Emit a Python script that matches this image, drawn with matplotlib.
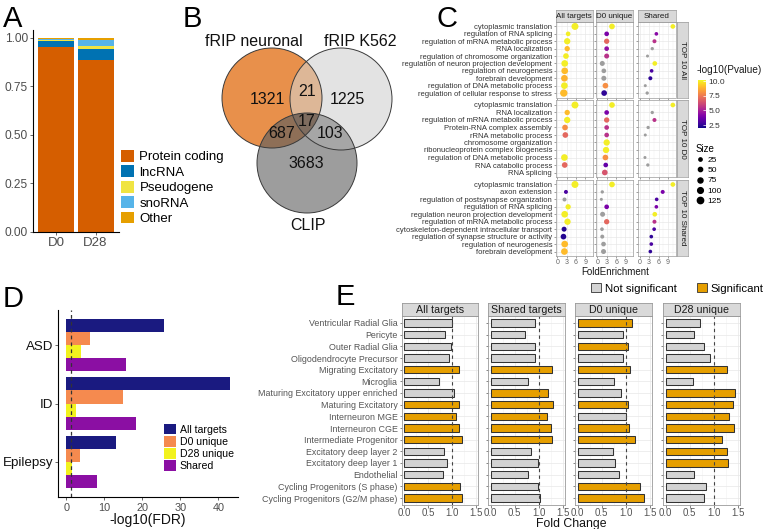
import numpy as np
import matplotlib
matplotlib.use("Agg")
import matplotlib.pyplot as plt
from matplotlib.patches import Polygon, Patch, Circle
from matplotlib.lines import Line2D
import matplotlib.colors as mcolors
import matplotlib.cm as cm

plt.rcParams['font.family'] = ['Liberation Sans', 'DejaVu Sans']

# ---------------- DATA ----------------
# Panel A
a_samples = ["D0", "D28"]
a_types = ["Protein coding", "lncRNA", "Pseudogene", "snoRNA", "Other"]
a_protein = [0.950, 0.883]
a_lncrna = [0.033, 0.060]
a_pseudo = [0.005, 0.014]
a_snorna = [0.007, 0.033]
a_other = [0.005, 0.010]

# Panel B (Venn)
venn_sets = ["fRIP neuronal", "fRIP K562", "CLIP"]
venn_regions = ["100", "010", "001", "110", "101", "011", "111"]
venn_counts = [1321, 1225, 3683, 21, 687, 103, 17]

# Panel C
c_cols = ["All targets", "D0 unique", "Shared"]
c_rows = ["TOP 10 All", "TOP 10 D0", "TOP 10 Shared"]
c_terms_top_all = ["cytoplasmic translation", "regulation of RNA splicing",
                   "regulation of mRNA metabolic process", "RNA localization",
                   "regulation of chromosome organization",
                   "regulation of neuron projection development",
                   "regulation of neurogenesis", "forebrain development",
                   "regulation of DNA metabolic process",
                   "regulation of cellular response to stress"]
c_terms_top_d0 = ["cytoplasmic translation", "RNA localization",
                  "regulation of mRNA metabolic process", "Protein-RNA complex assembly",
                  "rRNA metabolic process", "chromosome organization",
                  "ribonucleoprotein complex biogenesis",
                  "regulation of DNA metabolic process", "RNA catabolic process",
                  "RNA splicing"]
c_terms_top_shared = ["cytoplasmic translation", "axon extension",
                      "regulation of postsynapse organization", "regulation of RNA splicing",
                      "regulation neuron projection development",
                      "regulation of mRNA metabolic process",
                      "cytoskeleton-dependent intracellular transport",
                      "regulation of synapse structure or activity",
                      "regulation of neurogenesis", "forebrain development"]
nan = float("nan")
# fold enrichment per column (All targets, D0 unique, Shared)
c_fe_top_all = [[5.7, 3.5, 3.2, 3.2, 2.8, 2.4, 2.4, 2.3, 2.3, 2.1],
                [4.7, 3.0, 3.0, 3.0, 3.0, 1.6, 2.1, 2.1, 2.6, 2.2],
                [10.5, 5.3, 4.7, 4.0, 2.5, 4.8, 3.8, 3.4, 1.8, 2.4]]
c_fe_top_d0 = [[5.7, 3.2, 3.2, 2.5, 2.6, nan, nan, 2.3, 2.4, nan],
               [4.7, 3.0, 3.0, 3.0, 3.0, 3.0, 2.8, 2.6, 2.7, 2.4],
               [10.5, 4.0, 4.7, 2.7, 1.8, nan, nan, 1.7, 2.6, nan]]
c_fe_top_shared = [[5.7, 2.8, 2.3, 3.5, 2.4, 3.3, 2.2, 2.0, 2.4, 2.3],
                   [4.7, 1.6, 1.3, 3.0, 1.7, 3.0, 1.5, 1.6, 2.0, 2.0],
                   [10.5, 7.3, 5.4, 5.3, 4.8, 4.7, 4.6, 3.7, 3.7, 3.4]]
# -log10(Pvalue); nan = not significant (grey)
c_lp_top_all = [[10, 10, 10, 9.0, 10, 10, 9.0, 8.8, 10, 9.0],
                [10, 4.0, 7.0, 4.5, 5.5, nan, nan, nan, 8.0, 2.5],
                [10, 4.3, 5.5, nan, nan, 10, 3.0, 2.5, nan, nan]]
c_lp_top_d0 = [[10, 9.0, 10, 8.0, 7.0, nan, nan, 10, 7.0, nan],
               [10, 4.0, 7.0, 5.5, 5.5, 10, 10, 8.0, 3.5, 6.5],
               [10, nan, 5.5, nan, nan, nan, nan, nan, nan, nan]]
c_lp_top_shared = [[10, 3.0, nan, 10, 10, 10, 2.3, 2.3, 9.0, 9.0],
                   [10, nan, nan, 4.0, nan, 7.0, nan, nan, nan, nan],
                   [10, 4.0, 3.0, 4.0, 10, 5.5, 3.0, 2.5, 3.0, 2.5]]
# gene counts (Size)
c_n_top_all = [[156, 62, 125, 85, 98, 140, 140, 140, 140, 173],
               [98, 62, 85, 62, 73, 73, 62, 73, 98, 98],
               [62, 33, 42, 25, 18, 62, 33, 42, 18, 25]]
c_n_top_d0 = [[156, 85, 125, 98, 98, 0, 0, 140, 98, 0],
              [98, 62, 85, 62, 62, 125, 125, 98, 62, 98],
              [62, 25, 42, 25, 18, 0, 0, 18, 25, 0]]
c_n_top_shared = [[156, 42, 42, 85, 140, 125, 73, 98, 140, 140],
                  [98, 25, 18, 62, 73, 85, 33, 42, 62, 73],
                  [62, 42, 33, 33, 62, 42, 33, 33, 33, 33]]
c_size_legend = [25, 50, 75, 100, 125]
c_cbar_ticks = [2.5, 5.0, 7.5, 10.0]

# Panel D
d_categories = ["ASD", "ID", "Epilepsy"]
d_groups = ["All targets", "D0 unique", "D28 unique", "Shared"]
d_all = [25.8, 43.1, 13.0]
d_d0 = [6.3, 14.8, 3.5]
d_d28 = [3.9, 2.6, 1.5]
d_shared = [15.7, 18.4, 8.0]
d_threshold = 1.3

# Panel E
e_celltypes = ["Ventricular Radial Glia", "Pericyte", "Outer Radial Glia",
               "Oligodendrocyte Precursor", "Migrating Excitatory", "Microglia",
               "Maturing Excitatory upper enriched", "Maturing Excitatory",
               "Interneuron MGE", "Interneuron CGE", "Intermediate Progenitor",
               "Excitatory deep layer 2", "Excitatory deep layer 1", "Endothelial",
               "Cycling Progenitors (S phase)", "Cycling Progenitors (G2/M phase)"]
e_panels = ["All targets", "Shared targets", "D0 unique", "D28 unique"]
e_fc_all = [1.01, 0.86, 0.99, 0.94, 1.16, 0.74, 1.04, 1.15, 1.09, 1.16, 1.21, 0.84, 0.90, 0.81, 1.17, 1.22]
e_fc_shared = [0.93, 0.72, 0.93, 0.92, 1.28, 0.78, 1.20, 1.30, 1.18, 1.26, 1.28, 0.85, 0.99, 0.78, 0.99, 1.03]
e_fc_d0 = [1.13, 0.95, 1.06, 0.94, 1.10, 0.76, 0.90, 1.05, 1.01, 1.07, 1.20, 0.74, 0.78, 0.86, 1.30, 1.38]
e_fc_d28 = [0.71, 0.60, 0.80, 0.92, 1.28, 0.57, 1.45, 1.40, 1.32, 1.42, 1.18, 1.28, 1.30, 0.60, 0.84, 0.80]
e_sig_all = [0, 0, 0, 0, 1, 0, 0, 1, 1, 1, 1, 0, 0, 0, 1, 1]
e_sig_shared = [0, 0, 0, 0, 1, 0, 1, 1, 1, 1, 1, 0, 0, 0, 0, 0]
e_sig_d0 = [1, 0, 1, 0, 1, 0, 0, 1, 0, 1, 1, 0, 0, 0, 1, 1]
e_sig_d28 = [0, 0, 0, 0, 1, 0, 1, 1, 1, 1, 1, 1, 1, 0, 0, 0]

# ---------------- LAYOUT HELPERS ----------------
W, H = 764, 529
fig = plt.figure(figsize=(W / 100, H / 100), dpi=100)


def add_ax(x0, y0, x1, y1, **kw):
    return fig.add_axes([x0 / W, 1 - y1 / H, (x1 - x0) / W, (y1 - y0) / H], **kw)


def fig_text(x, y, s, **kw):
    return fig.text(x / W, 1 - y / H, s, **kw)


GREY_TXT = "#4D4D4D"

# panel letters
for lab, (lx, ly) in zip("ABCDE", [(3, 27), (183, 27), (437, 27), (3, 307), (336, 305)]):
    fig_text(lx, ly, lab, fontsize=21, va="baseline", ha="left")

# ---------------- PANEL A ----------------
axA = add_ax(33, 30, 119, 232)
a_colors = ["#D55E00", "#0072B2", "#F0E442", "#56B4E9", "#E69F00"]
bottom = np.zeros(2)
for vals, col, lab in zip([a_protein, a_lncrna, a_pseudo, a_snorna, a_other], a_colors, a_types):
    axA.bar(np.arange(1, 3), vals, bottom=bottom, width=0.92, color=col, label=lab)
    bottom += np.array(vals)
axA.set_xlim(0.4, 2.6)
axA.set_ylim(0, 1.04)
axA.set_xticks([1, 2])
axA.set_xticklabels(a_samples)
axA.set_yticks([0, 0.25, 0.5, 0.75, 1.0])
axA.set_yticklabels(["0.00", "0.25", "0.50", "0.75", "1.00"])
for s in ["top", "right"]:
    axA.spines[s].set_visible(False)
for s in ["left", "bottom"]:
    axA.spines[s].set_linewidth(0.8)
axA.tick_params(labelsize=8.6, colors=GREY_TXT, length=2.2, width=0.6, pad=1.5)
axA.tick_params(axis="x", labelsize=9.5)
hA, lA = axA.get_legend_handles_labels()
fig.legend(hA, lA, loc="upper left", bbox_to_anchor=(121 / W, 1 - 150 / H), frameon=False,
           fontsize=9.5, handlelength=1.0, handleheight=1.0, labelspacing=0.15,
           handletextpad=0.4, borderpad=0, borderaxespad=0)

# ---------------- PANEL B ----------------
axB = add_ax(190, 25, 400, 240)
axB.set_xlim(190, 400)
axB.set_ylim(240, 25)
axB.axis("off")
circ = {"1": (272, 98, 50), "2": (341, 99, 51), "3": (307, 163, 50)}


def circle_poly(cx, cy, r, n=200):
    t = np.linspace(0, 2 * np.pi, n, endpoint=False)
    return np.column_stack([cx + r * np.cos(t), cy + r * np.sin(t)])


def clip_poly(poly, clipper):
    out = list(poly)
    n = len(clipper)
    for i in range(n):
        a = clipper[i]
        b = clipper[(i + 1) % n]
        inp = out
        out = []
        if not inp:
            break

        def inside(p):
            return (b[0] - a[0]) * (p[1] - a[1]) - (b[1] - a[1]) * (p[0] - a[0]) >= 0

        def inter(p, q):
            d1 = q - p
            d2 = b - a
            den = d1[0] * d2[1] - d1[1] * d2[0]
            t = ((a[0] - p[0]) * d2[1] - (a[1] - p[1]) * d2[0]) / den
            return p + t * d1

        s = inp[-1]
        for e in inp:
            if inside(e):
                if not inside(s):
                    out.append(inter(s, e))
                out.append(e)
            elif inside(s):
                out.append(inter(s, e))
            s = e
    return np.array(out)


polys = {k: circle_poly(*v) for k, v in circ.items()}
venn_fill = {"100": "#E8904B", "010": "#E3E3E3", "001": "#9D9D9D",
             "110": "#DDB797", "101": "#8E6F57", "011": "#A6A6A6", "111": "#7E6C5F"}
for key in ["100", "010", "001"]:
    idx = str(key.index("1") + 1)
    axB.add_patch(Polygon(polys[idx], closed=True, facecolor=venn_fill[key], edgecolor="none"))
for key, (i, j) in [("110", ("1", "2")), ("101", ("1", "3")), ("011", ("2", "3"))]:
    axB.add_patch(Polygon(clip_poly(polys[i], polys[j]), closed=True,
                          facecolor=venn_fill[key], edgecolor="none"))
tri = clip_poly(clip_poly(polys["1"], polys["2"]), polys["3"])
axB.add_patch(Polygon(tri, closed=True, facecolor=venn_fill["111"], edgecolor="none"))
for k, (cx, cy, r) in circ.items():
    axB.add_patch(Circle((cx, cy), r, facecolor="none", edgecolor="#3a3a3a", lw=0.7))
venn_label_pos = {"100": (267, 100), "010": (347, 100), "001": (306, 164),
                  "110": (307, 91), "101": (282, 134), "011": (330, 134), "111": (307, 121)}
for key, cnt in zip(venn_regions, venn_counts):
    x, y = venn_label_pos[key]
    axB.text(x, y, str(cnt), ha="center", va="center", fontsize=11.5, color="#111111")
for name, (x, y) in zip(venn_sets, [(254, 42), (360, 42), (308, 225)]):
    axB.text(x, y, name, ha="center", va="center", fontsize=11.5, color="#111111")

# ---------------- PANEL C ----------------
cmap = plt.get_cmap("plasma")
norm = mcolors.Normalize(vmin=2.0, vmax=10.2)


def size_s(n):
    return 2.0 + 0.15 * np.asarray(n, dtype=float)


c_cols_x = [(555.7, 593.0), (595.7, 633.3), (638.0, 676.0)]
c_rows_y = [(22, 97.5), (100.5, 177), (180, 256)]
row_terms = [c_terms_top_all, c_terms_top_d0, c_terms_top_shared]
row_fe = [c_fe_top_all, c_fe_top_d0, c_fe_top_shared]
row_lp = [c_lp_top_all, c_lp_top_d0, c_lp_top_shared]
row_n = [c_n_top_all, c_n_top_d0, c_n_top_shared]
PANEL_EDGE = "#9A9A9A"
STRIP_FILL = "#D9D9D9"

for r in range(3):
    y0, y1 = c_rows_y[r]
    for c in range(3):
        x0, x1 = c_cols_x[c]
        ax = add_ax(x0, y0, x1, y1)
        fe = np.array(row_fe[r][c], dtype=float)
        lp = np.array(row_lp[r][c], dtype=float)
        nn = np.array(row_n[r][c], dtype=float)
        ypos = np.arange(1, len(row_terms[r]) + 1)
        valid = ~np.isnan(fe)
        ns = valid & np.isnan(lp)
        sg = valid & ~np.isnan(lp)
        ax.scatter(fe[ns], ypos[ns], s=size_s(nn[ns]), color="#9E9E9E", linewidths=0, zorder=3)
        ax.scatter(fe[sg], ypos[sg], s=size_s(nn[sg]), c=lp[sg], cmap=cmap, norm=norm,
                   linewidths=0, zorder=3)
        ax.set_xlim(-0.5, 11.5)
        ax.set_ylim(10.6, 0.4)
        ax.set_xticks([0, 3, 6, 9])
        ax.set_xticks([1.5, 4.5, 7.5, 10.5], minor=True)
        ax.set_yticks(ypos)
        ax.grid(which="major", color="#E6E6E6", lw=0.45)
        ax.grid(which="minor", axis="x", color="#F0F0F0", lw=0.35)
        ax.set_axisbelow(True)
        for s in ax.spines.values():
            s.set_color(PANEL_EDGE)
            s.set_linewidth(0.5)
        ax.tick_params(which="major", length=1.5, width=0.4, colors="#555555", pad=1)
        ax.tick_params(which="minor", length=0)
        if c == 0:
            ax.set_yticklabels(row_terms[r], fontsize=5.5, color="#333333")
        else:
            ax.set_yticklabels([])
        if r == 2:
            ax.set_xticklabels(["0", "3", "6", "9"], fontsize=5, color="#666666")
        else:
            ax.set_xticklabels([])
        if r == 0:
            sax = add_ax(x0, 10, x1, 21.5)
            sax.set_facecolor(STRIP_FILL)
            sax.set_xticks([]); sax.set_yticks([])
            for s in sax.spines.values():
                s.set_color(PANEL_EDGE); s.set_linewidth(0.5)
            sax.text(0.5, 0.45, c_cols[c], ha="center", va="center", fontsize=5.8,
                     color="#1A1A1A", transform=sax.transAxes)
    sax = add_ax(677, y0, 688, y1)
    sax.set_facecolor(STRIP_FILL)
    sax.set_xticks([]); sax.set_yticks([])
    for s in sax.spines.values():
        s.set_color(PANEL_EDGE); s.set_linewidth(0.5)
    sax.text(0.5, 0.5, c_rows[r], ha="center", va="center", rotation=-90, fontsize=5.8,
             color="#1A1A1A", transform=sax.transAxes)

fig_text(615, 272, "FoldEnrichment", ha="center", va="center", fontsize=7, color="#1A1A1A")

# colorbar legend
fig_text(697, 70, "-log10(Pvalue)", ha="left", va="center", fontsize=7.2, color="#1A1A1A")
cax = add_ax(698, 80, 706, 128)
sm = cm.ScalarMappable(norm=norm, cmap=cmap)
cb = fig.colorbar(sm, cax=cax)
cb.set_ticks(c_cbar_ticks)
cb.set_ticklabels(["%.1f" % v for v in c_cbar_ticks])
cb.outline.set_visible(False)
cb.ax.tick_params(labelsize=6, length=2, width=0.5, color="white", direction="in", pad=2,
                  labelcolor="#333333")

size_handles = [Line2D([], [], marker="o", linestyle="", color="black",
                       markersize=np.sqrt(size_s(v))) for v in c_size_legend]
fig.legend(size_handles, [str(v) for v in c_size_legend], title="Size",
           loc="upper left", bbox_to_anchor=(696 / W, 1 - 144 / H), frameon=False,
           fontsize=6, title_fontsize=7, labelspacing=0.28, handlelength=1.0,
           handletextpad=0.4, borderpad=0, borderaxespad=0, alignment="left")

# ---------------- PANEL D ----------------
axD = add_ax(58, 310, 238, 497)
d_colors = ["#1A1A80", "#F58A4F", "#F2F21E", "#8B0FA3"]
d_vals = [d_all, d_d0, d_d28, d_shared]
bh = 0.225
ypos = np.arange(len(d_categories))
for j, (vals, col, lab) in enumerate(zip(d_vals, d_colors, d_groups)):
    axD.barh(ypos + (j - 1.5) * bh, vals, height=bh, color=col, label=lab)
axD.axvline(d_threshold, color="#333333", ls=(0, (3, 2.5)), lw=0.9)
axD.set_ylim(2.6, -0.6)
axD.set_xlim(-2.15, 45.15)
axD.set_yticks(ypos)
axD.set_yticklabels(d_categories, fontsize=9.6, color="#111111")
axD.set_xticks([0, 10, 20, 30, 40])
axD.tick_params(axis="x", labelsize=7.8, colors=GREY_TXT, length=2.5, width=0.6, pad=1.5)
axD.tick_params(axis="y", length=2.2, width=0.6, colors=GREY_TXT, labelcolor="#111111", pad=1)
for s in ["top", "right"]:
    axD.spines[s].set_visible(False)
for s in ["left", "bottom"]:
    axD.spines[s].set_linewidth(0.8)
axD.set_xlabel("-log10(FDR)", fontsize=10, labelpad=0.5, color="#111111")
hD, lD = axD.get_legend_handles_labels()
fig.legend(hD, lD, loc="upper left", bbox_to_anchor=(164 / W, 1 - 424 / H), frameon=False,
           fontsize=7.6, handlelength=1.1, handleheight=1.15, labelspacing=0.12,
           handletextpad=0.4, borderpad=0, borderaxespad=0)

# ---------------- PANEL E ----------------
e_x = [(401.7, 478.0), (488.0, 565.0), (575.0, 652.0), (663.0, 740.0)]
e_vals = [e_fc_all, e_fc_shared, e_fc_d0, e_fc_d28]
e_sigs = [e_sig_all, e_sig_shared, e_sig_d0, e_sig_d28]
SIG_C = "#E69F00"
NS_C = "#D3D3D3"
epos = np.arange(1, len(e_celltypes) + 1)
for k in range(4):
    x0, x1 = e_x[k]
    ax = add_ax(x0, 316, x1, 505)
    cols = [SIG_C if s else NS_C for s in e_sigs[k]]
    ax.barh(epos, e_vals[k], height=0.62, color=cols, edgecolor="#333333", linewidth=0.75, zorder=2)
    ax.axvline(1.0, color="#444444", ls=(0, (3, 3)), lw=0.8, zorder=3)
    ax.set_xlim(-0.055, 1.55)
    ax.set_ylim(16.6, 0.4)
    ax.set_xticks([0, 0.5, 1.0, 1.5])
    ax.set_xticks([0.25, 0.75, 1.25], minor=True)
    ax.set_xticklabels(["0.0", "0.5", "1.0", "1.5"], fontsize=7, color=GREY_TXT)
    ax.set_yticks(epos)
    if k == 0:
        ax.set_yticklabels(e_celltypes, fontsize=6.4, color=GREY_TXT)
    else:
        ax.set_yticklabels([])
    ax.grid(which="major", color="#E8E8E8", lw=0.5)
    ax.grid(which="minor", axis="x", color="#F2F2F2", lw=0.4)
    ax.set_axisbelow(True)
    ax.tick_params(which="major", length=1.8, width=0.5, colors="#555555", pad=1.2)
    ax.tick_params(axis="x", pad=0.6)
    ax.tick_params(which="minor", length=0)
    for s in ax.spines.values():
        s.set_color(PANEL_EDGE); s.set_linewidth(0.6)
    sax = add_ax(x0, 303, x1, 316)
    sax.set_facecolor(STRIP_FILL)
    sax.set_xticks([]); sax.set_yticks([])
    for s in sax.spines.values():
        s.set_color(PANEL_EDGE); s.set_linewidth(0.6)
    sax.text(0.5, 0.45, e_panels[k], ha="center", va="center", fontsize=7.7,
             color="#1A1A1A", transform=sax.transAxes)

fig_text(571, 524.5, "Fold Change", ha="center", va="center", fontsize=8.8, color="#111111")
e_handles = [Patch(facecolor=NS_C, edgecolor="#333333", linewidth=0.6),
             Patch(facecolor=SIG_C, edgecolor="#333333", linewidth=0.6)]
fig.legend(e_handles, ["Not significant", "Significant"], loc="upper left",
           bbox_to_anchor=(591 / W, 1 - 283 / H), ncol=2, frameon=False, fontsize=8.2,
           handlelength=0.9, handleheight=0.9, handletextpad=0.3, columnspacing=1.8,
           borderpad=0, borderaxespad=0)

fig.savefig("out.png", dpi=100)
